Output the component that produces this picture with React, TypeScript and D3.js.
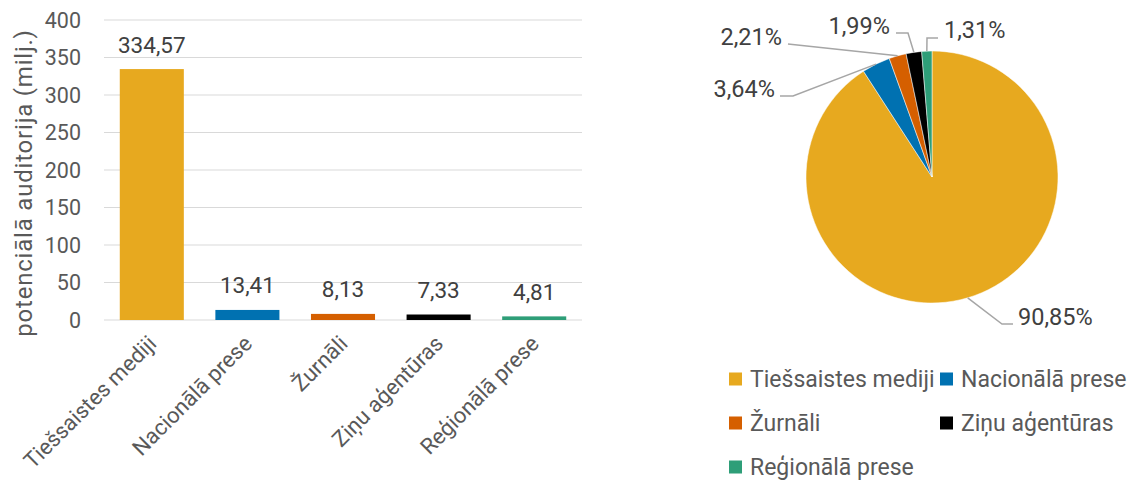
import React from 'react';
import * as d3 from 'd3';

const categories = ['Tiešsaistes mediji', 'Nacionālā prese', 'Žurnāli', 'Ziņu aģentūras', 'Reģionālā prese'];
const audience = [334.57, 13.41, 8.13, 7.33, 4.81];
const colors = ['#E7A91F', '#0071B1', '#D55F00', '#000000', '#2E9E78'];
const yTicks = [0, 50, 100, 150, 200, 250, 300, 350, 400];

// where each pie label sits (leader line elbow, line end, text anchor)
const pieLabelLayout = [
  {elbow: [1002, 324], end: [1013, 324], tx: 1018, ty: 325, anchor: 'start'},
  {elbow: [793, 96], end: [780, 96], tx: 775, ty: 97, anchor: 'end'},
  {elbow: [788, 44], end: [788, 44], tx: 782, ty: 45, anchor: 'end'},
  {elbow: [908, 33], end: [896, 33], tx: 890, ty: 34, anchor: 'end'},
  {elbow: [927, 38], end: [938, 38], tx: 944, ty: 38, anchor: 'start'},
];

const font = 'Roboto, "Open Sans", sans-serif';

export default function App() {
  const margin = {left: 104, right: 582, top: 20, bottom: 320};

  const x = d3.scaleBand().domain(categories).range([margin.left, margin.right]).paddingInner(0.33).paddingOuter(0.165);
  const y = d3.scaleLinear().domain([0, 400]).range([margin.bottom, margin.top]);

  const cx = 932, cy = 177, r = 126;
  const pieData = d3.pie<number>().sort(null).value(d => d)(audience);
  const arc = d3.arc<d3.PieArcDatum<number>>().innerRadius(0).outerRadius(r);
  const total = d3.sum(audience);
  const pct = (v: number) => (v / total * 100).toFixed(2).replace('.', ',') + '%';

  const legendRows = [[0, 1], [2, 3], [4]];

  return (
    <svg width={1132} height={480} style={{position: 'absolute', left: 0, top: 0, fontFamily: font}}>
      {/* gridlines */}
      {yTicks.map(t => (
        <line key={t} x1={margin.left} x2={margin.right} y1={y(t)} y2={y(t)} stroke='#d9d9d9' strokeWidth={1.2} />
      ))}
      {yTicks.map(t => (
        <text key={'t' + t} x={81} y={y(t)} dy='0.36em' textAnchor='end' fontSize={21.5} fill='#595959'>{t}</text>
      ))}
      <text transform={`translate(23,183) rotate(-90)`} textAnchor='middle' dy='0.36em' fontSize={24} letterSpacing={0.8} fill='#595959'>
        potenciālā auditorija (milj.)
      </text>

      {categories.map((c, i) => (
        <rect key={c} x={x(c)} y={y(audience[i])} width={x.bandwidth()} height={y(0) - y(audience[i])} fill={colors[i]} />
      ))}
      {categories.map((c, i) => (
        <text key={'v' + c} x={x(c)! + x.bandwidth() / 2} y={y(audience[i]) - 16.5} textAnchor='middle' fontSize={22.5} fill='#404040'>
          {audience[i].toFixed(2).replace('.', ',')}
        </text>
      ))}
      {categories.map(c => (
        <text key={'l' + c} transform={`translate(${x(c)! + x.bandwidth() / 2 + 6},345) rotate(-45)`} textAnchor='end' fontSize={22} fill='#595959'>
          {c}
        </text>
      ))}

      {/* pie */}
      <g transform={`translate(${cx},${cy})`}>
        {pieData.map((d, i) => (
          <path key={i} d={arc(d)!} fill={colors[i]} stroke='#fff' strokeWidth={0.5} />
        ))}
      </g>
      {pieData.map((d, i) => {
        const a = (d.startAngle + d.endAngle) / 2;
        const px = cx + r * Math.sin(a), py = cy - r * Math.cos(a);
        const L = pieLabelLayout[i];
        return (
          <g key={'p' + i}>
            <polyline points={`${px},${py} ${L.elbow[0]},${L.elbow[1]} ${L.end[0]},${L.end[1]}`} fill='none' stroke='#a6a6a6' strokeWidth={1.5} />
            <text x={L.tx} y={L.ty} textAnchor={L.anchor} fontSize={23.5} fill='#404040'>{pct(audience[i])}</text>
          </g>
        );
      })}

      {/* legend */}
      {legendRows.map((row, ri) => row.map((idx, ci) => (
        <g key={'lg' + idx} transform={`translate(${729 + ci * 211},${379 + ri * 44})`}>
          <rect x={0} y={-6.5} width={13} height={13} fill={colors[idx]} />
          <text x={21} y={0} dy='0.36em' fontSize={23} fill='#595959'>{categories[idx]}</text>
        </g>
      )))}
    </svg>
  );
}
